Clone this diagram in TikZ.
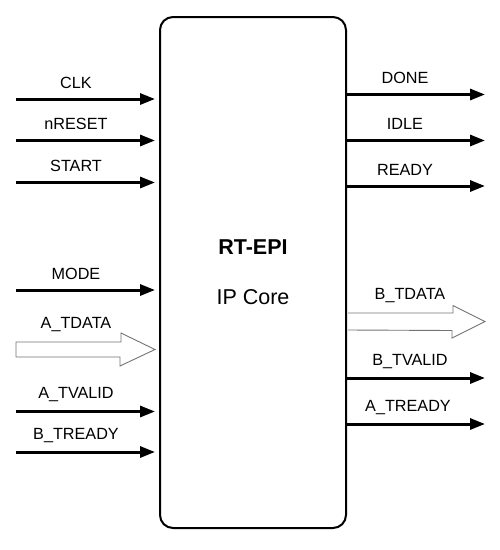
\documentclass[tikz,border=0pt]{standalone}
\usepackage{fontspec}
\setmainfont{Liberation Sans}
\usetikzlibrary{arrows.meta,positioning}
\tikzset{
  sig/.style={->, line width=3pt},
  bus/.style={draw=black!55, line width=0.9pt, line join=miter},
  siglab/.style={font=\fontsize{16.2}{18}\selectfont, inner sep=0pt}
}
\begin{document}
\begin{tikzpicture}[x=1pt, y=-1pt, >={Triangle[length=15pt,width=11pt]}, line join=round]
\useasboundingbox (0,0) rectangle (500,550);
% core block
\node[draw, line width=2pt, rounded corners=13pt, minimum width=186pt, minimum height=511pt, inner sep=0pt] (core) at (253,272.5) {};
\node[font=\fontsize{21.5}{24}\selectfont\bfseries] (name) at (253,247) {RT-EPI};
\node[font=\fontsize{21.5}{24}\selectfont] (sub) at (253,297) {IP Core};
% inputs
\foreach \y/\txt/\n in {99/CLK/clk, 140.5/nRESET/nreset, 182.5/START/start, 290/MODE/mode, 411.5/A\_TVALID/atvalid, 452/B\_TREADY/btready}{
  \coordinate (\n) at (16,\y);
  \draw[sig, shorten >=4pt] (\n) -- (core.west |- \n);
  \node[siglab] (\n-lab) at (76,\y-16.5) {\txt};
}
% outputs
\foreach \y/\txt/\n in {94.5/DONE/done, 140.5/IDLE/idle, 186/READY/ready, 378/B\_TVALID/btvalid, 424/A\_TREADY/atready}{
  \coordinate (\n) at (485,\y);
  \draw[sig] (core.east |- \n) -- (\n);
}
\node[siglab] (done-lab) at (405,77.5) {DONE};
\node[siglab] (idle-lab) at (405,123.5) {IDLE};
\node[siglab] (ready-lab) at (405,169.5) {READY};
\node[siglab] (btvalid-lab) at (410,361.5) {B\_TVALID};
\node[siglab] (atready-lab) at (408,407.5) {A\_TREADY};
% data buses
\coordinate (atdata) at (16,349.5);
\draw[bus, fill=white] (atdata) ++(0,7.5) -- ++(0,-15) -- ++(105,0) -- ++(0,-9) -- ([xshift=-4pt]core.west |- atdata) -- ++(-35,16.5) -- ++(0,-9) -- cycle;
\node[siglab] (atdata-lab) at (76,325) {A\_TDATA};
\coordinate (btdata) at (485,321.5);
\coordinate (bt0) at ([xshift=1pt]core.east |- btdata);
\draw[bus] ([yshift=8.5pt]bt0) -- ++(105,0) -- ++(0,-7.5) -- (btdata) -- ++(-33,16.5) -- ++(0,-7.5) -- ([yshift=-8.5pt]bt0);
\node[siglab] (btdata-lab) at (410,296) {B\_TDATA};
\end{tikzpicture}
\end{document}
